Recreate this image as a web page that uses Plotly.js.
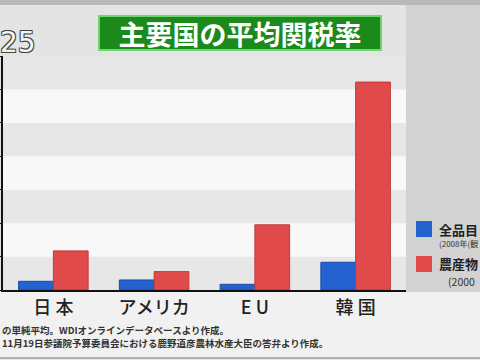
<!DOCTYPE html>
<html>
<head>
<meta charset="utf-8">
<script src="https://cdn.plot.ly/plotly-3.0.1.min.js"></script>
<style>html,body{margin:0;padding:0;background:#ebebeb;}#chart{width:480px;height:360px;}</style>
</head>
<body>
<div id="chart"></div>
<script>
// ---- data ----
const categories = ['日 本', 'アメリカ', 'E U', '韓 国'];
const allItems = [2.6, 3.0, 1.7, 8.3];        // 全品目 (2008年)
const agri = [11.7, 5.5, 19.5, 62.2];         // 農産物 (2000年)
const seriesNames = ['全品目', '農産物'];
const seriesNotes = ['(2008年(観', '(2000'];
const yTicks = [0, 10, 20, 30, 40, 50, 60, 70];
const titleText = '主要国の平均関税率';
const cornerText = '25';
const notes = [
  'の単純平均。WDIオンラインデータベースより作成。',
  '11月19日参議院予算委員会における鹿野道彦農林水産大臣の答弁より作成。'
];

// ---- layout helpers (pixel -> paper) ----
const W = 480, H = 360, L = 3, R = 74, T = 56, B = 70;
const pw = W - L - R, ph = H - T - B;
const px = x => (x - L) / pw;
const py = y => (H - B - y) / ph;

const blue = '#2462cf', red = '#e04a4a';
const FONT = '"Noto Sans CJK JP", "Noto Sans", sans-serif';

const traces = [
  {type: 'bar', x: categories, y: allItems, name: seriesNames[0],
   marker: {color: blue, line: {color: '#1a4aa8', width: 1}}},
  {type: 'bar', x: categories, y: agri, name: seriesNames[1],
   marker: {color: red, line: {color: '#c23a3a', width: 1}}}
];

const shapes = [];
// background regions
shapes.push({type: 'rect', xref: 'paper', yref: 'paper', x0: px(0), x1: px(W), y0: py(0), y1: py(5), fillcolor: '#b8b8b8', line: {width: 0}, layer: 'below'});
shapes.push({type: 'rect', xref: 'paper', yref: 'paper', x0: px(406), x1: px(W), y0: py(5), y1: py(292), fillcolor: '#d2d2d2', line: {width: 0}, layer: 'below'});
shapes.push({type: 'rect', xref: 'paper', yref: 'paper', x0: px(0), x1: px(W), y0: py(292), y1: py(357), fillcolor: '#f1f1f1', line: {width: 0}, layer: 'below'});
shapes.push({type: 'line', xref: 'paper', yref: 'paper', x0: px(0), x1: px(W), y0: py(358), y1: py(358), line: {color: '#b0b0b0', width: 2}, layer: 'below'});
// alternating bands
for (let i = 0; i < yTicks.length - 1; i++) {
  shapes.push({type: 'rect', xref: 'paper', yref: 'y', x0: 0, x1: 1, y0: yTicks[i], y1: yTicks[i + 1],
    fillcolor: i % 2 === 0 ? '#e7e7e7' : '#f8f8f8', line: {width: 0}, layer: 'below'});
}
// legend swatches
shapes.push({type: 'rect', xref: 'paper', yref: 'paper', x0: px(416), x1: px(432), y0: py(237), y1: py(221), fillcolor: blue, line: {width: 0}});
shapes.push({type: 'rect', xref: 'paper', yref: 'paper', x0: px(416), x1: px(432), y0: py(272), y1: py(256), fillcolor: red, line: {width: 0}});

const annotations = [
  {xref: 'paper', yref: 'paper', x: px(240), y: py(33.5), xanchor: 'center', yanchor: 'middle',
   text: '<b>' + titleText + '</b>', showarrow: false, width: 280, height: 32,
   bgcolor: '#1b8a1b', bordercolor: '#70d470', borderwidth: 2, borderpad: 0,
   font: {family: FONT, size: 27, color: '#ffffff'}},
  {xref: 'paper', yref: 'paper', x: px(-2), y: py(43), xanchor: 'left', yanchor: 'middle',
   text: cornerText, showarrow: false,
   font: {family: 'DejaVu Sans', size: 28, color: '#f4f4f4',
          shadow: '1px 1px 0 #444, -1px -1px 0 #444, 1px -1px 0 #444, -1px 1px 0 #444'}},
  {xref: 'paper', yref: 'paper', x: px(437), y: py(229), xanchor: 'left', yanchor: 'middle',
   text: '<b>' + seriesNames[0] + '</b>', showarrow: false, font: {family: FONT, size: 13, color: '#222'}},
  {xref: 'paper', yref: 'paper', x: px(437), y: py(243), xanchor: 'left', yanchor: 'middle',
   text: seriesNotes[0], showarrow: false, font: {family: FONT, size: 8, color: '#333'}},
  {xref: 'paper', yref: 'paper', x: px(437), y: py(263), xanchor: 'left', yanchor: 'middle',
   text: '<b>' + seriesNames[1] + '</b>', showarrow: false, font: {family: FONT, size: 13, color: '#222'}},
  {xref: 'paper', yref: 'paper', x: px(446), y: py(281), xanchor: 'left', yanchor: 'middle',
   text: seriesNotes[1], showarrow: false, font: {family: FONT, size: 10.5, color: '#333'}},
  {xref: 'paper', yref: 'paper', x: px(0), y: py(330), xanchor: 'left', yanchor: 'middle',
   text: '<b>' + notes[0] + '</b>', showarrow: false, font: {family: FONT, size: 9.5, color: '#333'}},
  {xref: 'paper', yref: 'paper', x: px(0), y: py(343), xanchor: 'left', yanchor: 'middle',
   text: '<b>' + notes[1] + '</b>', showarrow: false, font: {family: FONT, size: 9.5, color: '#333'}}
];

const layout = {
  width: W, height: H,
  margin: {l: L, r: R, t: T, b: B, pad: 0},
  paper_bgcolor: '#e4e4e4',
  plot_bgcolor: '#f8f8f8',
  showlegend: false,
  barmode: 'group',
  bargap: 0.31,
  bargroupgap: 0,
  xaxis: {
    type: 'category', range: [-0.5, categories.length - 0.5],
    showline: true, linecolor: '#111', linewidth: 2, ticks: '', showgrid: false,
    tickfont: {family: FONT, size: 18, color: '#222', weight: 500}, fixedrange: true
  },
  yaxis: {
    range: [0, 70], tickvals: yTicks, showticklabels: false,
    showline: true, linecolor: '#111', linewidth: 2, ticks: 'outside', ticklen: 3, tickcolor: '#111',
    showgrid: false, zeroline: false, fixedrange: true
  },
  shapes: shapes,
  annotations: annotations
};

Plotly.newPlot('chart', traces, layout, {staticPlot: true, displayModeBar: false});
</script>
</body>
</html>
